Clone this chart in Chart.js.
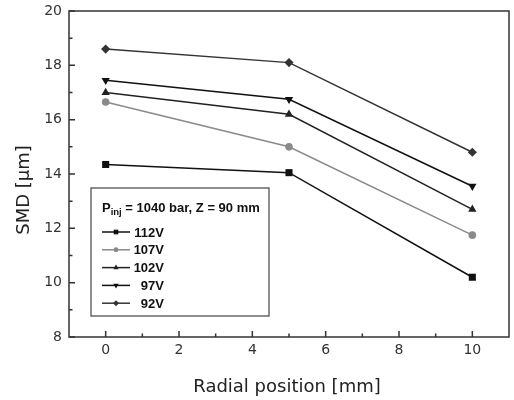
<!DOCTYPE html>
<html>
<head>
<meta charset="utf-8">
<script src="https://cdn.jsdelivr.net/npm/chart.js"></script>
<style>
  html, body { margin: 0; padding: 0; background: #fff; }
  canvas { display: block; }
</style>
</head>
<body>
<canvas id="smdChart" width="514" height="400"></canvas>
<script>
// radial positions (mm) and SMD values (um)
const radialPos = [0, 5, 10];
const seriesNames = ['112V', '107V', '102V', '97V', '92V'];
const smd112 = [14.35, 14.05, 10.2];
const smd107 = [16.65, 15.0, 11.75];
const smd102 = [17.0, 16.2, 12.7];
const smd97 = [17.45, 16.75, 13.55];
const smd92 = [18.6, 18.1, 14.8];
const xTickValues = [0, 2, 4, 6, 8, 10];
const yTickValues = [8, 10, 12, 14, 16, 18, 20];
const legendTitle = { main: 'P', sub: 'inj', rest: ' = 1040 bar, Z = 90 mm' };

const seriesValues = [smd112, smd107, smd102, smd97, smd92];
const lineColors = ['#111', '#8a8a8a', '#222', '#111', '#333'];
const markers = [
  { style: 'rect', radius: 5, rotation: 0 },
  { style: 'circle', radius: 3.8, rotation: 0 },
  { style: 'triangle', radius: 4.8, rotation: 0 },
  { style: 'triangle', radius: 4.8, rotation: 180 },
  { style: 'rectRot', radius: 4.6, rotation: 0 }
];

const tickFont = { family: '"DejaVu Sans", sans-serif', size: 14 };
const titleFont = '18px "DejaVu Sans", sans-serif';

const datasets = seriesNames.map((name, i) => ({
  label: name,
  data: radialPos.map((x, j) => ({ x: x, y: seriesValues[i][j] })),
  borderColor: lineColors[i],
  backgroundColor: lineColors[i],
  borderWidth: 1.5,
  pointStyle: markers[i].style,
  pointRotation: markers[i].rotation,
  pointRadius: markers[i].radius,
  pointHoverRadius: markers[i].radius,
  pointBorderWidth: 0,
  tension: 0,
  fill: false
}));

function drawMarker(ctx, m, x, y, r) {
  ctx.beginPath();
  if (m.style === 'rect') {
    const s = r * Math.SQRT1_2;
    ctx.rect(x - s, y - s, 2 * s, 2 * s);
  } else if (m.style === 'circle') {
    ctx.arc(x, y, r, 0, Math.PI * 2);
  } else if (m.style === 'rectRot') {
    ctx.moveTo(x, y - r); ctx.lineTo(x + r, y); ctx.lineTo(x, y + r); ctx.lineTo(x - r, y);
  } else {
    const d = m.rotation === 180 ? -1 : 1;
    ctx.moveTo(x, y - d * r);
    ctx.lineTo(x + r * 0.866, y + d * r * 0.5);
    ctx.lineTo(x - r * 0.866, y + d * r * 0.5);
  }
  ctx.closePath();
  ctx.fill();
}

// frame round the plot and inward ticks on the bottom and left axes
const frameTicks = {
  id: 'frameTicks',
  afterDraw(chart) {
    const { ctx, chartArea: a, scales: { x, y } } = chart;
    ctx.save();
    ctx.strokeStyle = '#333';
    ctx.lineWidth = 1.5;
    ctx.beginPath();
    x.ticks.forEach(t => {
      const px = x.getPixelForValue(t.value);
      ctx.moveTo(px, a.bottom); ctx.lineTo(px, a.bottom - 6);
      const mx = x.getPixelForValue(t.value + 1);
      if (mx < a.right - 1) { ctx.moveTo(mx, a.bottom); ctx.lineTo(mx, a.bottom - 3.5); }
    });
    y.ticks.forEach(t => {
      const py = y.getPixelForValue(t.value);
      ctx.moveTo(a.left, py); ctx.lineTo(a.left + 6, py);
      const my = y.getPixelForValue(t.value + 1);
      if (my > a.top + 1) { ctx.moveTo(a.left, my); ctx.lineTo(a.left + 3.5, my); }
    });
    ctx.stroke();
    ctx.strokeRect(a.left, a.top, a.width, a.height);

    // axis titles
    ctx.fillStyle = '#222';
    ctx.font = titleFont;
    ctx.textAlign = 'center';
    ctx.textBaseline = 'alphabetic';
    ctx.fillText('Radial position [mm]', (a.left + a.right) / 2 - 2, 392);
    ctx.translate(29, (a.top + a.bottom) / 2 + 16);
    ctx.rotate(-Math.PI / 2);
    ctx.fillText('SMD [\u03bcm]', 0, 0);
    ctx.restore();
  }
};

// boxed legend inside the plot, lower left
const boxLegend = {
  id: 'boxLegend',
  afterDatasetsDraw(chart) {
    const { ctx, chartArea: a } = chart;
    const left = a.left + 22, top = a.top + 177;
    const w = 178, h = 128;
    ctx.save();
    ctx.fillStyle = '#fff';
    ctx.fillRect(left, top, w, h);
    ctx.strokeStyle = '#444';
    ctx.lineWidth = 1.2;
    ctx.strokeRect(left, top, w, h);

    ctx.fillStyle = '#111';
    ctx.textBaseline = 'alphabetic';
    ctx.textAlign = 'left';
    let tx = left + 11;
    ctx.font = 'bold 13px "Liberation Sans", Arial, sans-serif';
    ctx.fillText(legendTitle.main, tx, top + 24);
    tx += ctx.measureText(legendTitle.main).width;
    ctx.font = 'bold 9.5px "Liberation Sans", Arial, sans-serif';
    ctx.fillText(legendTitle.sub, tx, top + 27);
    tx += ctx.measureText(legendTitle.sub).width;
    ctx.font = 'bold 13px "Liberation Sans", Arial, sans-serif';
    ctx.fillText(legendTitle.rest, tx, top + 24);

    chart.data.datasets.forEach((ds, i) => {
      const cy = top + 44 + i * 17.8;
      ctx.strokeStyle = ds.borderColor;
      ctx.fillStyle = ds.borderColor;
      ctx.lineWidth = 1.5;
      ctx.beginPath();
      ctx.moveTo(left + 11, cy); ctx.lineTo(left + 39, cy);
      ctx.stroke();
      drawMarker(ctx, markers[i], left + 25, cy, markers[i].radius * 0.65);
      ctx.fillStyle = '#111';
      ctx.textAlign = 'right';
      ctx.textBaseline = 'middle';
      ctx.font = 'bold 13px "Liberation Sans", Arial, sans-serif';
      ctx.fillText(ds.label, left + 73, cy + 1);
    });
    ctx.restore();
  }
};

new Chart(document.getElementById('smdChart'), {
  type: 'line',
  data: { datasets: datasets },
  options: {
    responsive: false,
    animation: false,
    devicePixelRatio: 1,
    layout: { padding: { top: 11, right: 1, left: 0, bottom: 0 } },
    plugins: { legend: { display: false }, tooltip: { enabled: false } },
    scales: {
      x: {
        type: 'linear',
        min: -1,
        max: 11,
        grid: { display: false, drawTicks: false },
        border: { display: false },
        ticks: { color: '#333', font: tickFont, padding: 5, maxRotation: 0 },
        afterBuildTicks: scale => { scale.ticks = xTickValues.map(v => ({ value: v })); },
        afterFit: scale => {
          scale.height = 63;
          scale.paddingLeft = 0;
          scale.paddingRight = 0;
        }
      },
      y: {
        min: 8,
        max: 20,
        grid: { display: false, drawTicks: false },
        border: { display: false },
        ticks: { color: '#333', font: tickFont, padding: 7 },
        afterBuildTicks: scale => { scale.ticks = yTickValues.map(v => ({ value: v })); },
        afterFit: scale => {
          scale.width = 69;
          scale.paddingTop = 0;
          scale.paddingBottom = 0;
        }
      }
    }
  },
  plugins: [frameTicks, boxLegend]
});
</script>
</body>
</html>
